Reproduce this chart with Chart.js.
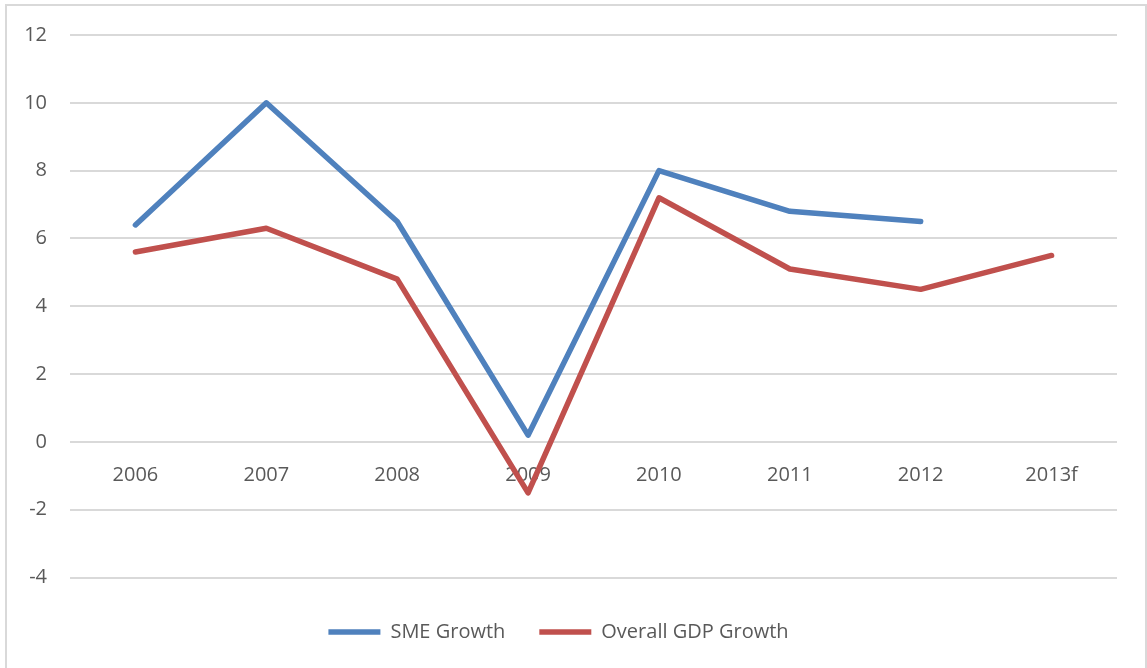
<!DOCTYPE html>
<html>
<head>
<meta charset="utf-8">
<script src="https://cdn.jsdelivr.net/npm/chart.js@4"></script>
<style>
  body { margin: 0; background: #fff; }
  #wrap { position: absolute; left: 0; top: 0; width: 1147px; height: 668px; }
  #frame { position: absolute; left: 5px; top: 4px; width: 1138px; height: 700px; border: 2px solid #d9d9d9; pointer-events: none; }
</style>
</head>
<body>
<div id="wrap"><canvas id="growthChart"></canvas></div>
<div id="frame"></div>
<script>
// categories and series
var years = ["2006","2007","2008","2009","2010","2011","2012","2013f"];
var smeGrowth = [6.4, 10, 6.5, 0.2, 8, 6.8, 6.5, null];
var gdpGrowth = [5.6, 6.3, 4.8, -1.5, 7.2, 5.1, 4.5, 5.5];

var txt = '#595959';
var fnt = { family: "'Open Sans', sans-serif", size: 20 };

var ctx = document.getElementById("growthChart");
var growthChart = new Chart(ctx, {
  type: 'line',
  data: {
    labels: years,
    datasets: [{
        data: smeGrowth,
        label: "SME Growth",
        borderColor: "#4F81BD",
        backgroundColor: "#4F81BD",
        borderWidth: 5.5,
        borderCapStyle: 'round',
        borderJoinStyle: 'round',
        pointRadius: 0,
        lineTension: 0,
        fill: false
      }, {
        data: gdpGrowth,
        label: "Overall GDP Growth",
        borderColor: "#C0504D",
        backgroundColor: "#C0504D",
        borderWidth: 5.5,
        borderCapStyle: 'round',
        borderJoinStyle: 'round',
        pointRadius: 0,
        lineTension: 0,
        fill: false
      }
    ]
  },
  options: {
    responsive: true,
    maintainAspectRatio: false,
    animation: false,
    layout: { padding: { left: 0, right: 30, top: 33, bottom: 16 } },
    scales: {
      x: {
        position: { y: 0 },
        offset: true,
        grid: { display: false, drawTicks: false },
        border: { display: false },
        ticks: { color: txt, font: fnt, padding: 21, maxRotation: 0 }
      },
      y: {
        min: -4,
        max: 12,
        afterFit: function(scale) { scale.width = 70; },
        ticks: { stepSize: 2, color: txt, font: fnt, padding: 23 },
        grid: { color: '#d9d9d9', lineWidth: 2, drawTicks: false },
        border: { display: false }
      }
    },
    plugins: {
      tooltip: { enabled: false },
      legend: {
        display: true,
        position: 'bottom',
        // empty title used only as spacer above the legend row
        title: { display: true, text: ' ', font: { size: 2 }, padding: 4 },
        labels: {
          color: txt,
          font: fnt,
          usePointStyle: true,
          pointStyle: 'line',
          pointStyleWidth: 52,
          padding: 34
        }
      }
    }
  }
});
</script>
</body>
</html>
